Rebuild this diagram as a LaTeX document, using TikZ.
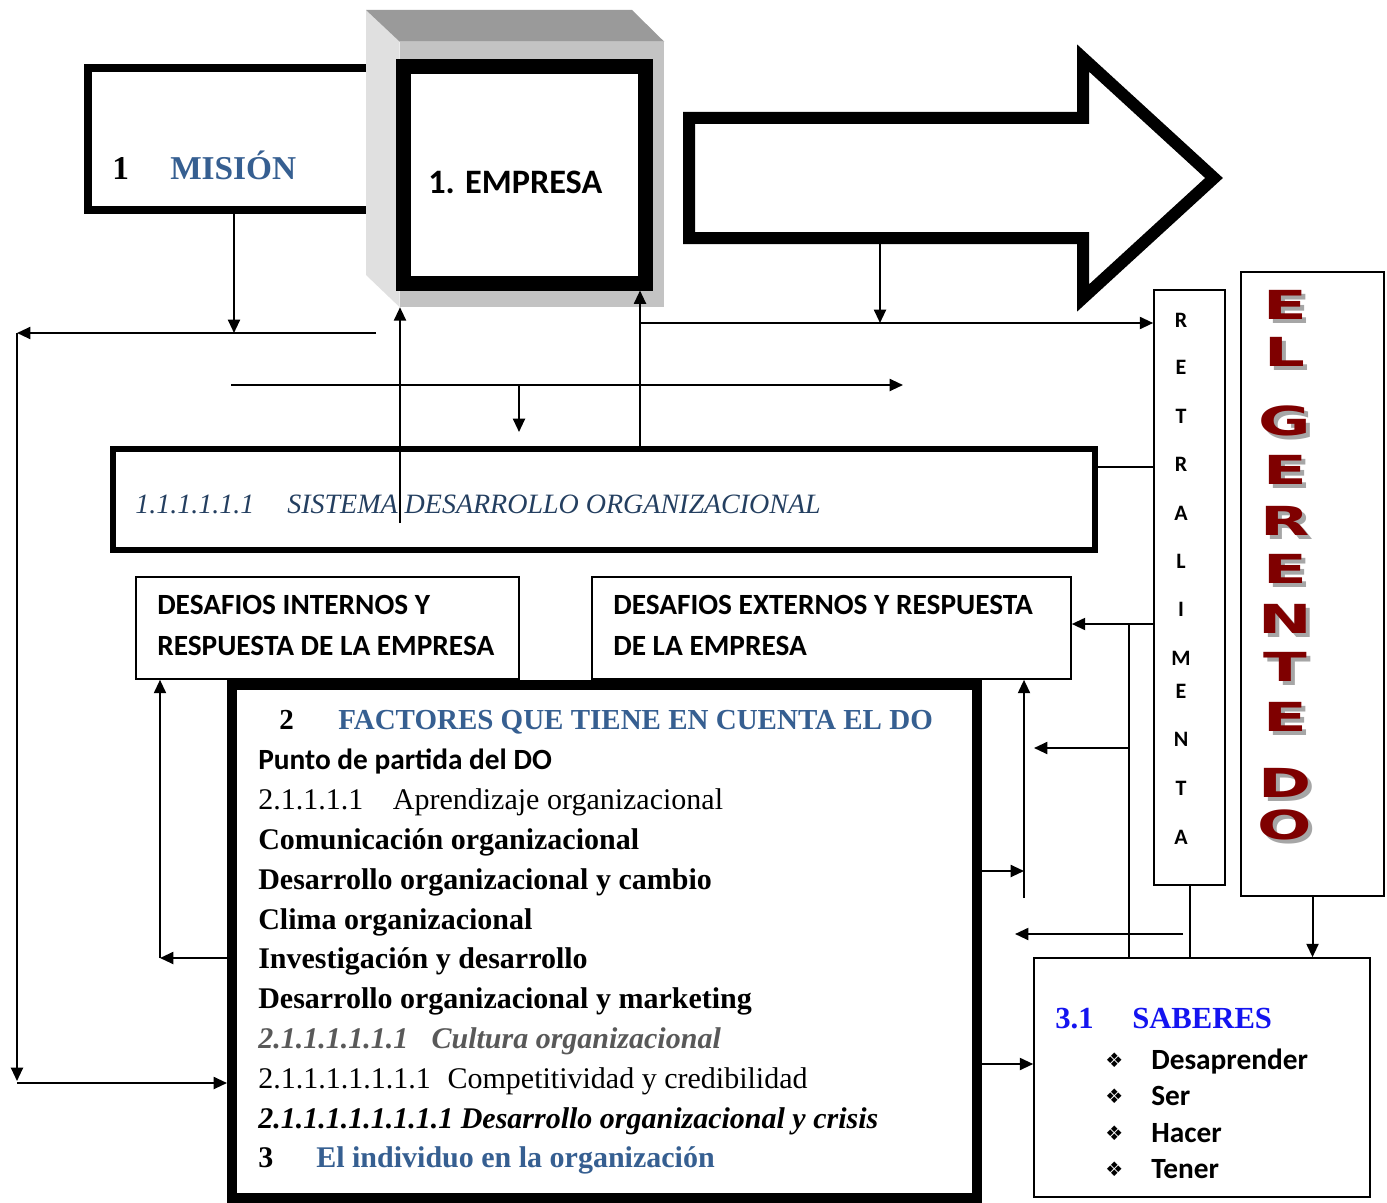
\documentclass[tikz,border=0pt]{standalone}
\usepackage{graphicx}
\usepackage{fontspec}
\setmainfont{Liberation Serif}
\newfontfamily\calibri{Carlito}
\newfontfamily\dejavu{DejaVu Sans}
\usetikzlibrary{arrows.meta,fit,calc}

\definecolor{headblue}{HTML}{365F91}
\definecolor{navy}{HTML}{243F60}
\definecolor{sabblue}{HTML}{1414F0}
\definecolor{wordred}{HTML}{7F0000}
\definecolor{shadowgrey}{HTML}{A6A6A6}
\definecolor{cubetop}{HTML}{9A9A9A}
\definecolor{cubeside}{HTML}{E0E0E0}
\definecolor{cubefront}{HTML}{C3C3C3}
\definecolor{greytext}{HTML}{595959}

\newcommand{\fsz}[1]{\fontsize{#1}{#1}\selectfont}
\newcommand{\wide}[1]{\scalebox{1.6}[1]{#1}}
% letter with its grey drop shadow
\newcommand{\shadowed}[1]{\makebox[0pt][l]{\hspace{3pt}\raisebox{-3pt}[0pt][0pt]{\textcolor{shadowgrey}{\wide{#1}}}}\wide{#1}}

\tikzset{
  heavybox/.style={draw, inner sep=0pt, line width=#1},
  thinbox/.style={draw, inner sep=0pt, line width=1.2pt, fill=white},
  arr/.style={-{Triangle[length=10pt,width=9pt]}, line width=1.5pt},
  link/.style={line width=1.5pt},
  txt/.style={anchor=base west, inner sep=0pt},
  body/.style={txt, font=\fsz{22.5}\bfseries},
  bodyplain/.style={txt, font=\fsz{22.5}},
  bodyital/.style={txt, font=\fsz{22.5}\bfseries\itshape},
  capsbody/.style={txt, font=\calibri\bfseries\fsz{22}},
  retroletter/.style={inner sep=0pt, font=\calibri\bfseries\fsz{16.5}},
  gletter/.style={inner sep=0pt, font=\dejavu\bfseries\fsz{30}, text=wordred}
}

\begin{document}
\begin{tikzpicture}[x=0.75pt,y=-0.75pt]
  \useasboundingbox (0,0) rectangle (1387,1202);

  % Mision, behind the cube
  \node[heavybox=6pt, fit={(88,68) (380,210)}] (mision) {};
  \node[txt, font=\bfseries\fsz{25}] (misionnum) at (112,180) {1};
  \node[txt, font=\bfseries\fsz{25}, text=headblue] (misiontxt) at (170,180) {MISIÓN};

  % Empresa cube
  \node[inner sep=0pt, fill=cubefront, fit={(400,42) (664,307)}] (cube) {};
  \fill[cubeside] (366,10) -- (cube.north west) -- (cube.south west) -- (366,275) -- cycle;
  \fill[cubetop] (366,10) -- (632,10) -- (cube.north east) -- (cube.north west) -- cycle;
  \node[heavybox=11.25pt, fill=white, fit={(403,67) (645,283)}] (empresa) {};
  \node[txt, font=\calibri\bfseries\fsz{25.7}] (empresatxt) at (428,193) {1. EMPRESA};

  % Big arrow
  \draw[line width=9pt, miter limit=10] (689,118) -- (1083,118) -- (1083,58)
    -- (1214,178) -- (1083,298) -- (1083,238) -- (689,238) -- cycle;
  \coordinate (arrowfoot) at (880,244);

  % Sistema desarrollo organizacional
  \node[heavybox=4.5pt, fit={(113,449) (1095,550)}] (sistema) {};
  \node[txt, font=\itshape\fsz{21}, text=navy] (sistematxt) at (135,513)
    {\makebox[114pt][l]{1.1.1.1.1.1}SISTEMA DESARROLLO ORGANIZACIONAL};

  % Desafios
  \node[thinbox, fit={(136,577) (519,679)}] (internos) {};
  \node[capsbody] (int1) at (157,614) {DESAFIOS INTERNOS Y};
  \node[capsbody] (int2) at (157,655) {RESPUESTA DE LA EMPRESA};
  \node[thinbox, fit={(592,577) (1071,679)}] (externos) {};
  \node[capsbody] (ext1) at (613,614) {DESAFIOS EXTERNOS Y RESPUESTA};
  \node[capsbody] (ext2) at (613,655) {DE LA EMPRESA};

  % Factores
  \node[heavybox=7.5pt, fill=white, fit={(232,685) (977,1198)}] (factores) {};
  \node[txt, font=\bfseries\fsz{21.75}] (facnum) at (279,729) {2};
  \node[txt, font=\bfseries\fsz{21.75}, text=headblue] (factit) at (338,729) {FACTORES QUE TIENE EN CUENTA EL DO};
  \node[capsbody] (f1) at (258,769) {Punto de partida del DO};
  \node[bodyplain] (f2) at (258,809) {\makebox[101pt][l]{2.1.1.1.1}Aprendizaje organizacional};
  \node[body] (f3) at (258,849) {Comunicación organizacional};
  \node[body] (f4) at (258,889) {Desarrollo organizacional y cambio};
  \node[body] (f5) at (258,929) {Clima organizacional};
  \node[body] (f6) at (258,968) {Investigación y desarrollo};
  \node[body] (f7) at (258,1008) {Desarrollo organizacional y marketing};
  \node[bodyital, text=greytext] (f8) at (258,1048) {\makebox[130pt][l]{2.1.1.1.1.1.1}Cultura organizacional};
  \node[bodyplain] (f9) at (258,1088) {\makebox[142pt][l]{2.1.1.1.1.1.1.1}Competitividad y credibilidad};
  \node[bodyital] (f10) at (258,1128) {2.1.1.1.1.1.1.1.1 Desarrollo organizacional y crisis};
  \node[body] (f11) at (258,1167) {\makebox[43.5pt][l]{3}\textcolor{headblue}{El individuo en la organización}};

  % Retroalimenta
  \node[thinbox, fit={(1154,290) (1225,885)}] (retro) {};
  \foreach \l/\y in {R/320,E/367,T/416,R/464,A/513,L/561,I/609,M/658,E/691,N/739,T/788,A/837}
    \node[retroletter] (rt\y) at (1181,\y) {\l};

  % El gerente DO
  \node[thinbox, fit={(1241,272) (1384,896)}] (gerente) {};
  \foreach \l/\y in {E/305,L/352,G/421,E/470,R/521,E/569,N/619,T/667,E/717,D/783,O/825}
    \node[gletter] (gl\y) at (1285,\y) {\shadowed{\l}};

  % Saberes
  \node[thinbox, fit={(1034,958) (1370,1197)}] (saberes) {};
  \node[txt, font=\bfseries\fsz{23}, text=sabblue] (sabnum) at (1055,1028) {3.1};
  \node[txt, font=\bfseries\fsz{23}, text=sabblue] (sabtit) at (1132,1028) {SABERES};
  \foreach \t/\y in {Desaprender/1069,Ser/1105,Hacer/1142,Tener/1178} {
    \node[txt, font=\dejavu\fsz{15}] (b\t) at (1105,\y-2) {❖};
    \node[capsbody] (s\t) at (1151,\y) {\t};
  }

  % Connectors, top half
  \coordinate (topline) at (376,333);
  \coordinate (leftcorner) at (17,333);
  \coordinate (leftbottom) at (17,1083);
  \draw[arr] (mision.south) -- (mision.south |- topline);
  \draw[arr] (topline) -- (leftcorner);
  \draw[arr] (leftcorner) -- ($(leftbottom)+(0,-2)$);
  \draw[arr] (leftbottom) -- (leftbottom -| factores.west);

  \coordinate (sdo) at (400,523);
  \draw[arr] (sdo) -- (sdo |- cube.south);
  \coordinate (j1) at (640,323);
  \draw[arr] (j1 |- sistema.north) -- (j1 |- empresa.south);
  \draw[arr] (j1) -- (j1 -| retro.west);
  \draw[arr] (arrowfoot) -- (arrowfoot |- j1);

  \coordinate (mid1) at (231,385);
  \coordinate (mid2) at (903,385);
  \coordinate (mid3) at (519,385);
  \draw[arr] (mid1) -- (mid2);
  \draw[arr] (mid3) -- ++(0,47);

  % Connectors, right side
  \coordinate (r1) at (1154,467);
  \draw[link] (r1 -| sistema.east) -- (r1);
  \coordinate (r2) at (1154,624);
  \draw[arr] (r2) -- (r2 -| externos.east);
  \coordinate (v1) at (1129,624);
  \draw[link] (v1) -- (v1 |- saberes.north);
  \coordinate (h3) at (1129,748);
  \draw[arr] (h3) -- ++(-95,0);
  \coordinate (v2) at (1024,898);
  \draw[arr] (v2) -- (v2 |- externos.south);
  \coordinate (h4) at (1024,871);
  \draw[arr] (h4 -| factores.east) -- (h4);
  \coordinate (h5) at (1183,934);
  \draw[arr] (h5) -- ++(-168,0);
  \draw[link] (retro.south) -- (retro.south |- saberes.north);
  \draw[arr] (gerente.south) -- (gerente.south |- saberes.north);
  \coordinate (h6) at (1024,1064);
  \draw[arr] (h6 -| factores.east) -- (h6 -| saberes.west);

  % Connectors, left side
  \coordinate (h7) at (160,958);
  \draw[arr] (h7 -| factores.west) -- (h7);
  \draw[arr] (h7) -- (h7 |- internos.south);
\end{tikzpicture}
\end{document}
